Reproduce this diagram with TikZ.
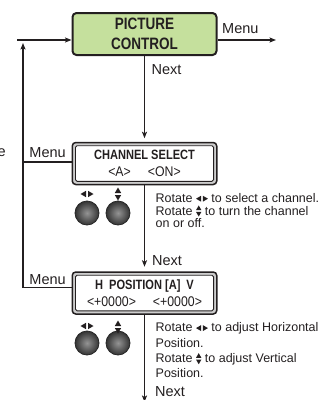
\documentclass[tikz,border=0pt]{standalone}
\usepackage{fontspec}
\setmainfont{Liberation Sans}
\newfontfamily\condfont[FakeStretch=0.82]{Liberation Sans}
\newfontfamily\semicond[FakeStretch=0.88]{Liberation Sans}
\usetikzlibrary{arrows.meta}
\definecolor{ink}{HTML}{231F20}
\definecolor{pcgreen}{HTML}{C5E09D}
\definecolor{bandgray}{HTML}{CDCDCD}
\tikzset{
  lrarrows/.pic={\fill[ink] (-6.5,0) -- (-1,-3.2) -- (-1,3.2) -- cycle;
                 \fill[ink] (6.5,0) -- (1,-3.2) -- (1,3.2) -- cycle;},
  udarrows/.pic={\fill[ink] (0,-6.5) -- (-3.2,-1) -- (3.2,-1) -- cycle;
                 \fill[ink] (0,6.5) -- (-3.2,1) -- (3.2,1) -- cycle;}
}
\newcommand\lricon{\tikz[x=0.92pt,y=0.92pt,baseline=-3.6pt]\pic{lrarrows};}
\newcommand\udicon{\tikz[x=0.85pt,y=0.85pt,baseline=-4pt]\pic{udarrows};}
\begin{document}
\begin{tikzpicture}[x=1pt,y=-1pt,
  line/.style={draw=ink,line width=1.2pt},
  arr/.style={line,-{Stealth[length=6.5pt,width=5pt,inset=1.5pt]}},
  lbl/.style={text=ink,inner sep=0pt,font=\fontsize{14.5}{16}\selectfont},
  desc/.style={text=ink,inner sep=0pt,anchor=base west,font=\fontsize{12.5}{14}\selectfont},
  pcbox/.style={draw=ink,line width=2pt,fill=pcgreen,rounded corners=4pt,
    minimum width=144pt,minimum height=42pt,inner sep=0pt,align=center,text=ink,
    font=\condfont\bfseries\fontsize{16.5}{20}\selectfont},
  lcdbox/.style={draw=ink,line width=1.5pt,fill=bandgray,rounded corners=3.5pt,
    minimum width=144.5pt,minimum height=42pt,inner sep=0pt,align=center,text=ink,
    font=\fontsize{14}{17}\selectfont,
    path picture={\draw[ink,line width=0.9pt,fill=white,rounded corners=1.5pt]
      ([shift={(3.2pt,-3.2pt)}]path picture bounding box.north west) rectangle
      ([shift={(-3.2pt,3.2pt)}]path picture bounding box.south east);}},
  knob/.style={circle,minimum size=24pt,inner sep=0pt,draw=black!85,line width=0.8pt,
    inner color=black!42,outer color=black!80},
  hd/.style={font=\condfont\bfseries\fontsize{13.5}{17}\selectfont},
  vl/.style={font=\semicond\fontsize{14}{17}\selectfont}
]
\useasboundingbox (0,0) rectangle (336,400);

% boxes
\node[pcbox] (pc) at (144.5,34) {PICTURE\\CONTROL};
\node[lcdbox] (cs) at (144.5,163.5) {{\condfont\bfseries\fontsize{13.5}{17}\selectfont CHANNEL SELECT}\\{\semicond <A>\hspace{17pt}<ON>}};
\node[lcdbox] (hp) at (144.5,293) {{\condfont\bfseries\fontsize{13.5}{17}\selectfont H\hspace{6pt}POSITION [A]\hspace{6pt}V}\\{\semicond <+0000>\hspace{17pt}<+0000>}};

% coordinates
\coordinate (menuend) at (276,40);
\coordinate (inl) at (17,40);
\coordinate (fb) at (23,287.5);
\coordinate (fbtop) at (23,43);
\coordinate (csm) at (23,162);
\coordinate (bot) at (144.5,402);

% connectors
\draw[arr,shorten >=3.5pt] (pc.south) -- (cs.north);
\draw[arr,shorten >=4.5pt] (cs.south) -- (hp.north);
\draw[arr] (hp.south) -- (bot);
\draw[arr] (pc.east |- menuend) -- (menuend);
\draw[arr] (inl) -- (inl -| pc.west);
\draw[arr] (hp.west |- fb) -- (fb) -- (fbtop);
\draw[line] (csm) -- (csm -| cs.west);

% labels
\node[lbl,anchor=base west] (menu1) at (222,33.5) {Menu};
\node[lbl,anchor=base west] (next1) at (151.5,74) {Next};
\node[lbl,anchor=base west] (menu2) at (29.3,157.3) {Menu};
\node[lbl,anchor=base west] (next2) at (152,265.5) {Next};
\node[lbl,anchor=base west] (menu3) at (29.3,284.8) {Menu};
\node[lbl,anchor=base west] (next3) at (155,396.7) {Next};
\node[lbl,anchor=base west] (cut) at (-2.5,156.7) {e};

% knobs
\node[knob] (k1) at (87,213) {};
\node[knob] (k2) at (118,213) {};
\node[knob] (k3) at (87,343) {};
\node[knob] (k4) at (118,343) {};
\pic at (87,194) {lrarrows};
\pic at (118,194) {udarrows};
\pic at (87,326) {lrarrows};
\pic at (118,327) {udarrows};

% descriptions
\node[desc] (d1) at (155.5,202.3) {Rotate \lricon{} to select a channel.};
\node[desc] (d2) at (155.5,215) {Rotate \udicon{} to turn the channel};
\node[desc] (d3) at (155.5,227) {on or off.};
\node[desc] (d4) at (155.5,331.7) {Rotate \lricon{} to adjust Horizontal};
\node[desc] (d5) at (155.5,347.3) {Position.};
\node[desc] (d6) at (155.5,362.7) {Rotate \udicon{} to adjust Vertical};
\node[desc] (d7) at (155.5,377.7) {Position.};
\end{tikzpicture}
\end{document}
